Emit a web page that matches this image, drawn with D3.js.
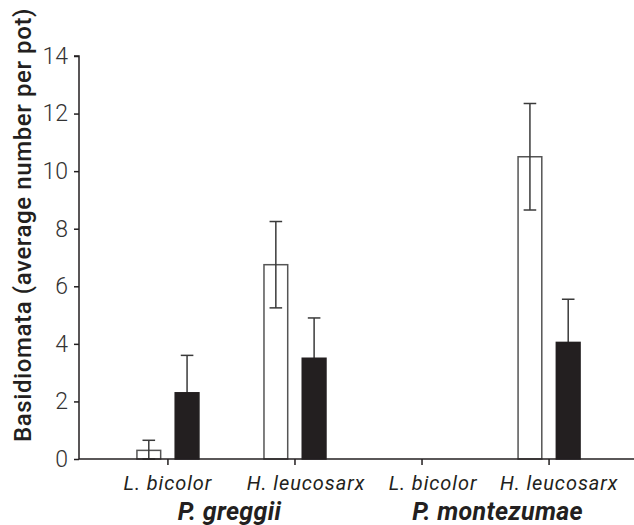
<!DOCTYPE html>
<html>
<head>
<meta charset="utf-8">
<script src="https://cdn.jsdelivr.net/npm/d3@7"></script>
<style>
  html, body { margin: 0; padding: 0; background: #fff; }
  svg { display: block; }
</style>
</head>
<body>
<svg id="chart" width="634" height="525"></svg>
<script>
// ---- data ----
const hosts = ["P. greggii", "P. montezumae"];
const fungi = ["L. bicolor", "H. leucosarx"];
const categories = ["P. greggii|L. bicolor", "P. greggii|H. leucosarx", "P. montezumae|L. bicolor", "P. montezumae|H. leucosarx"];
const series = ["open", "filled"];
const openValues = [0.3, 6.75, null, 10.5];
const openErrors = [0.35, 1.5, null, 1.85];
const filledValues = [2.3, 3.5, null, 4.05];
const filledErrors = [1.3, 1.4, null, 1.5];
const yTicks = [0, 2, 4, 6, 8, 10, 12, 14];
const yTitle = "Basidiomata (average number per pot)";

// ---- layout ----
const svg = d3.select("#chart");
const x0 = 79, yBase = 459, yTop = 56;
const x = d3.scaleBand().domain(categories).range([x0, 638]).paddingInner(0).paddingOuter(0.2);
const xs = d3.scaleBand().domain(series).range([-31, 31]).paddingInner(0.38).paddingOuter(0);
const y = d3.scaleLinear().domain([0, 14]).range([yBase, yTop]);

const ink = "#231f20";
const catLabelNudge = [0, 11, 11, 10];
const hostLabelNudge = [-2, 12];

const rows = categories.map((c, i) => ({
  cat: c, host: c.split("|")[0], fungus: c.split("|")[1],
  vals: [
    { s: "open", v: openValues[i], e: openErrors[i] },
    { s: "filled", v: filledValues[i], e: filledErrors[i] }
  ]
}));

// bars
const g = svg.append("g");
rows.forEach(r => {
  r.vals.forEach(d => {
    if (d.v == null) return;
    const cx = x(r.cat) + x.bandwidth() / 2;
    const bx = cx + xs(d.s);
    const bw = xs.bandwidth();
    const top = y(d.v + d.e);
    const low = d.s === "open" ? y(Math.max(0, d.v - d.e)) : y(d.v);
    const mx = bx + bw / 2;
    const capW = 6.3;
    if (d.s === "filled") {
      g.append("line").attr("x1", mx).attr("x2", mx).attr("y1", top).attr("y2", low)
        .attr("stroke", "#3a3a3a").attr("stroke-width", 1.5);
      g.append("line").attr("x1", mx - capW).attr("x2", mx + capW).attr("y1", top).attr("y2", top)
        .attr("stroke", "#3a3a3a").attr("stroke-width", 1.5);
    }
    g.append("rect")
      .attr("x", bx).attr("width", bw)
      .attr("y", y(d.v)).attr("height", yBase - y(d.v))
      .attr("fill", d.s === "open" ? "#fff" : ink)
      .attr("stroke", d.s === "open" ? "#555" : ink)
      .attr("stroke-width", 1.5);
    if (d.s === "open") {
      g.append("line").attr("x1", mx).attr("x2", mx).attr("y1", top).attr("y2", low)
        .attr("stroke", "#3a3a3a").attr("stroke-width", 1.5);
      [top, low].forEach(yy => {
        g.append("line").attr("x1", mx - capW).attr("x2", mx + capW).attr("y1", yy).attr("y2", yy)
          .attr("stroke", "#3a3a3a").attr("stroke-width", 1.5);
      });
    }
  });
});

// y axis
const yAxis = svg.append("g").attr("transform", `translate(${x0},0)`)
  .call(d3.axisLeft(y).tickValues(yTicks).tickSize(5).tickPadding(6).tickFormat(d3.format("d")));
yAxis.select(".domain").attr("stroke", ink).attr("stroke-width", 1.5).attr("d", `M-5,${yTop}H0V${yBase}`);
yAxis.selectAll(".tick line").attr("stroke", ink).attr("stroke-width", 1.5);
yAxis.selectAll(".tick text").attr("font-family", "Roboto").attr("font-weight", 300)
  .attr("font-size", 23).attr("fill", "#333");

// x axis
const xAxis = svg.append("g").attr("transform", `translate(0,${yBase})`)
  .call(d3.axisBottom(x).tickSize(6).tickPadding(10).tickFormat(c => c.split("|")[1]));
xAxis.select(".domain").attr("stroke", ink).attr("stroke-width", 1.5).attr("d", `M${x0},0H634`);
xAxis.selectAll(".tick line").attr("stroke", ink).attr("stroke-width", 1.5);
xAxis.selectAll(".tick text").attr("font-family", "Roboto").attr("font-style", "italic")
  .attr("font-size", 20).attr("letter-spacing", 0.9).attr("fill", ink)
  .attr("dy", null).attr("y", 31)
  .attr("dx", (c, i) => catLabelNudge[i]);

// host labels
hosts.forEach((h, i) => {
  const cs = categories.filter(c => c.startsWith(h + "|"));
  const mid = d3.mean(cs, c => x(c) + x.bandwidth() / 2);
  svg.append("text").attr("x", mid + hostLabelNudge[i]).attr("y", 520).attr("text-anchor", "middle")
    .attr("font-family", "Roboto").attr("font-style", "italic").attr("font-weight", 700)
    .attr("font-size", 25).attr("letter-spacing", 0.3).attr("fill", ink).text(h);
});

// y title
svg.append("text").attr("transform", "translate(31,225) rotate(-90)")
  .attr("text-anchor", "middle").attr("font-family", "Roboto").attr("font-weight", 500)
  .attr("font-size", 24).attr("letter-spacing", 0.6).attr("fill", ink).text(yTitle);
</script>
</body>
</html>
